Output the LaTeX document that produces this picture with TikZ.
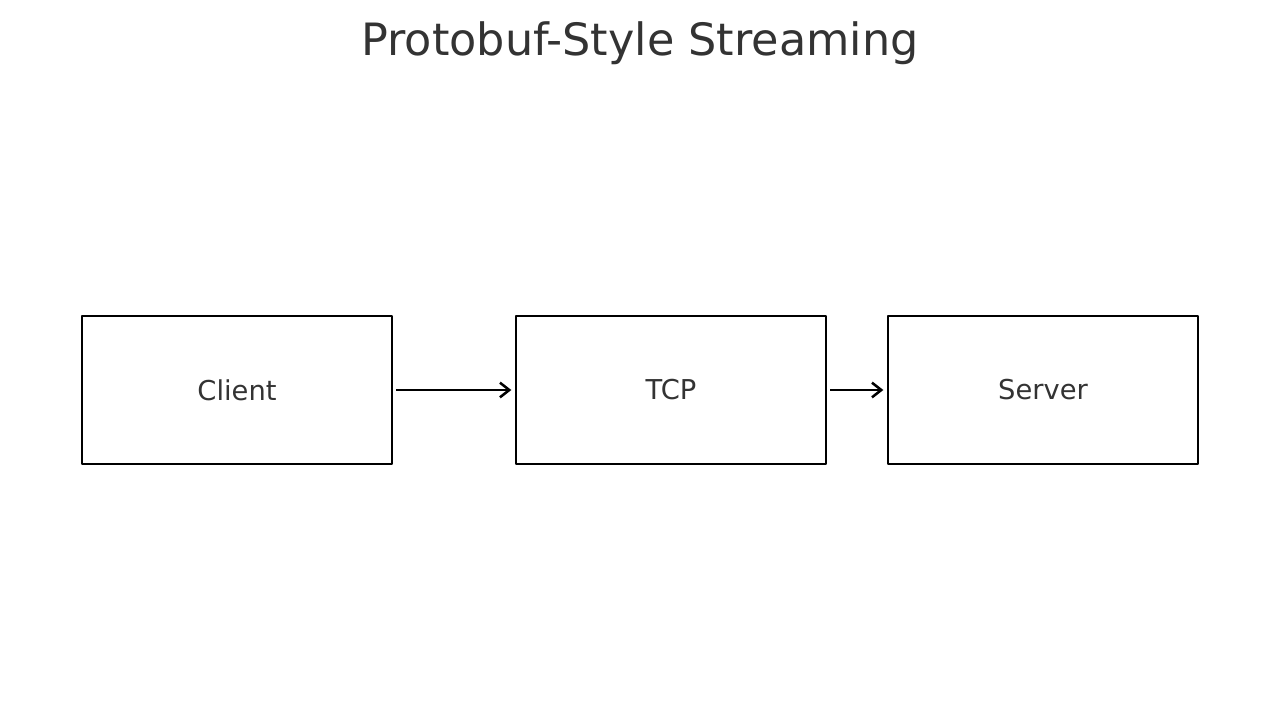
\documentclass[tikz,border=0pt]{standalone}
\usepackage{fontspec}
\setmainfont{DejaVu Sans}
\usetikzlibrary{arrows.meta}
\definecolor{txtgray}{HTML}{333333}
\tikzset{
	stage/.style={draw=black,line width=1.9pt,minimum width=232.5pt,minimum height=111pt,
		inner sep=0pt,outer sep=0pt,text=txtgray,font=\fontsize{20.5}{24}\selectfont},
	flow/.style={->,line width=1.9pt,shorten <=3pt,shorten >=3.5pt}
}
\begin{document}
\begin{tikzpicture}[x=0.75pt,y=-0.75pt,>={Straight Barb[length=7pt,width=11pt]},line join=round]
		\useasboundingbox (0,0) rectangle (1280,706);
		\node[text=txtgray,font=\fontsize{33.4}{40}\selectfont] (title) at (640,43) {Protobuf-Style Streaming};
		\node[stage] (client) at (237,390) {Client};
		\node[stage] (tcp) at (671,390) {TCP};
		\node[stage] (server) at (1043,390) {Server};
		\draw[flow] (client)--(tcp);
		\draw[flow] (tcp)--(server);
\end{tikzpicture}
\end{document}
